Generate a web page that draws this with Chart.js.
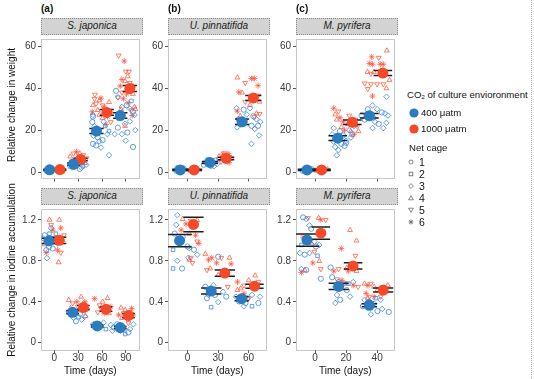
<!DOCTYPE html>
<html><head><meta charset="utf-8">
<script src="https://cdn.jsdelivr.net/npm/chart.js@4"></script>
<style>
body{margin:0;background:#fff;font-family:"Liberation Sans",Arial,sans-serif;}
#fig{position:relative;width:534px;height:379px;overflow:hidden;background:#fff;}
canvas{position:absolute;}
.strip{position:absolute;background:#d3d3d3;border:1px dotted #8c8c8c;box-sizing:border-box;font-style:italic;font-size:10px;color:#1a1a1a;text-align:center;line-height:14px;}
.lab{position:absolute;font-size:10px;color:#111;white-space:nowrap;line-height:12px;}
</style></head>
<body><div id="fig"></div>
<script>
// ---------------- DATA ----------------
const SPECIES = ['S. japonica', 'U. pinnatifida', 'M. pyrifera'];
const PANEL_LABELS = ['(a)', '(b)', '(c)'];
const CO2_LEVELS = ['400 μatm', '1000 μatm'];
const CAGES = ['1', '2', '3', '4', '5', '6'];
const WEIGHT_TICKS = [0, 20, 40, 60];
const IODINE_TICKS = [0, 0.4, 0.8, 1.2];
const SJ_DAY_TICKS = [0, 30, 60, 90];
const UP_DAY_TICKS = [0, 30, 60];
const MP_DAY_TICKS = [0, 20, 40];
const Y_TITLES = ['Relative change in weight', 'Relative change in iodine accumulation'];
const X_TITLE = 'Time (days)';

// means: [day, mean, SE, cap half-width (days)]
const sjWeightMean400  = [[-6,1.1,0.3,8],[24,3.8,0.5,8],[53,19.6,1.2,9],[83,27,1.3,9]];
const sjWeightMean1000 = [[7,1.2,0.3,8],[33,6,0.6,9],[66,28.5,1.4,9],[95,39.9,1.4,9]];
const upWeightMean400  = [[-7.2,1,0.3,8],[22,4.6,0.5,8],[53.7,24,1.3,7]];
const upWeightMean1000 = [[6.4,1,0.3,8],[38,6.5,0.6,8],[64.8,35.4,1.2,8]];
const mpWeightMean400  = [[-5.2,1,0.3,6],[14.6,16.2,1.1,6],[35,26.9,1.1,6]];
const mpWeightMean1000 = [[4.2,1,0.3,6],[24,23.8,1.1,6],[43.7,47.3,1.2,6]];
const sjIodineMean400  = [[-6.9,0.995,0.025,9],[23.1,0.297,0.015,8],[53.9,0.164,0.01,8],[83,0.148,0.01,8]];
const sjIodineMean1000 = [[6.1,1.0,0.03,9],[36.5,0.344,0.02,8],[65,0.328,0.02,8],[93.3,0.265,0.02,8]];
const upIodineMean400  = [[-7.9,0.997,0.06,12],[23.3,0.505,0.03,10],[53.3,0.43,0.02,7]];
const upIodineMean1000 = [[5.8,1.155,0.07,10],[36.7,0.68,0.03,10],[66,0.552,0.02,9]];
const mpIodineMean400  = [[-5.2,1.003,0.06,8],[15.2,0.55,0.03,6.5],[35,0.366,0.015,5]];
const mpIodineMean1000 = [[3.7,1.07,0.06,6],[24.5,0.75,0.03,6],[43.9,0.515,0.02,6.5]];

// individual replicates: [day, value, net cage]
const sjWeightPts400 = [
 [-10,0.8,1],[-8,1.5,2],[-5,0.5,3],[-3,1.8,1],[-9,1.2,2],[-6,0.3,3],[-4,1.0,1],[-7,2.0,3],
 [20,2.8,1],[24,2.0,2],[28,2.8,3],[32,1.5,1],[36,2.8,2],[40,3.5,3],[22,3.5,1],[30,4.0,2],[34,2.1,3],
 [48.6,27.3,3],[47.8,23.9,1],[49.4,17.3,3],[54.7,16.6,1],[56.7,14.7,3],[60.7,15.3,1],[66.8,18.1,3],[68.8,19.6,2],
 [52.6,12.7,1],[58.7,11.7,3],[68.8,8.1,3],[48.6,13.5,1],[50.6,21.9,3],[48.6,26.5,1],[62,24,3],[64,22,2],
 [77.7,38.8,1],[80.2,35.7,3],[85,31.1,3],[91,31.9,1],[95,30.4,3],[99,28.8,1],[101,27.3,3],[89,23,3],[80,21.2,1],
 [85,18.1,3],[92,18.9,1],[89.9,15,3],[99,12,1],[76,18.1,3],[81,25.8,1],[95,24.2,3],[97,34,2],[102,20,3]];
const sjWeightPts1000 = [
 [4,0.5,4],[6,1.5,5],[9,0.8,6],[11,1.8,4],[12,0.6,5],[7,2.2,6],[10,1.2,4],[5,1.0,5],
 [20,7.4,4],[24,8.9,5],[28,9.7,6],[32,8.9,4],[36.4,8.1,5],[26,5.8,6],[34,6.1,4],[40.5,6.6,5],[30,4.3,6],[38.5,4.3,4],[22,5.1,5],
 [50.6,35,5],[56.7,34.2,4],[58.7,35.3,6],[48.6,31.9,4],[52.6,32.7,5],[47.8,28.8,6],[54.7,29.6,4],[60.7,31.9,5],[62.8,31.1,6],
 [68.8,33.4,4],[70.9,28.1,5],[66.8,26.5,6],[60.7,25.8,4],[70.9,23.9,5],[64.8,22.7,6],[56.7,27.3,4],[51,37,5],
 [81,55.7,5],[88,53,6],[90,48,5],[94,48,5],[92.3,45.7,4],[85,44.2,6],[89,43.4,4],[95,42.6,5],[83,41.1,6],[99,41.1,4],
 [85,38,5],[91,37.3,6],[99,37.3,4],[80,35.7,5],[87,35,6],[101,31.1,4],[97,29.6,5],[89,22,4],[93,33,6],[84,30,4],[98,27,6],[102,30,4]];
const upWeightPts400 = [
 [-11,0.6,1],[-9,1.5,2],[-6,0.4,3],[-4,1.7,1],[-8,1.1,3],[-5,0.9,2],[-10,1.9,1],
 [16,3.5,1],[18,5,3],[20,6,2],[23,3,1],[25,4.5,3],[27,5.5,1],[29,3.8,3],[31,6.2,2],[21,4.2,1],[26,2.8,3],
 [49,21.4,3],[50.5,25.2,1],[55.3,29.8,1],[58.4,27.5,3],[61.5,30.5,3],[64.8,26.7,1],[67.9,25.2,3],[69.5,22.1,1],
 [71.7,24,3],[66.3,20.6,3],[63,22.1,1],[70.5,17.5,3],[63,13.5,3],[52,22.9,1],[48.3,30.5,3],[57,24.5,2]];
const upWeightPts1000 = [
 [3,0.6,4],[5,1.6,5],[8,0.8,6],[10,1.4,4],[6,0.3,5],[9,2,6],[4,1.2,4],
 [31,7.5,4],[33,5,5],[35,8.5,6],[37,6,4],[39,7.8,5],[41,4.5,6],[43,6.8,4],[36,9,5],[40,8.8,6],[34,6.5,4],
 [49,45.1,4],[56.8,42.6,5],[63,44.7,6],[66,44.7,6],[69.5,41.3,6],[50.5,38.2,6],[53.7,37.9,4],[56.8,33.6,5],
 [61.5,32,4],[69.5,36.6,5],[71,33.6,4],[71,27.8,5],[49,29.1,6],[52,26.7,4],[66,26.3,5],[68,28,4]];
const mpWeightPts400 = [
 [-8,0.7,1],[-6,1.5,2],[-4,0.5,3],[-2,1.3,1],[-7,1.1,3],[-3,0.9,2],
 [12,21,3],[16,19.5,1],[11,18,3],[18,17.5,1],[20,15,3],[17,13.5,1],[13,12,3],[15,10.5,3],[14,8,3],[19,12.5,1],
 [22,20,3],[24,18,1],[25,22,3],[23,16.5,3],[20,14,1],[12,14.5,3],
 [46,36,3],[37,31.8,3],[34,30,1],[40,30,3],[43,28.5,1],[45,28,3],[47,27,3],[30,27,1],[38,26,3],[38.5,24,3],
 [41,23,1],[46,23.5,3],[44,21,3],[37,21,3],[32,25,1]];
const mpWeightPts1000 = [
 [1,0.6,4],[3,1.5,5],[6,0.8,6],[8,1.3,4],[5,0.4,5],[2,1.1,6],
 [12,30.5,6],[15,29,5],[13,27.5,4],[16,26,6],[14,25,4],[18,24,6],[21,23,4],[26,25,5],[27,22,6],[17,21.5,4],
 [19,20,6],[23,19.5,4],[25,18,6],[28,19.5,4],[22,27,5],
 [46.3,58,4],[36.5,55,6],[41,54.6,5],[35,51.9,6],[37,51.5,6],[42,51.5,6],[44,51.5,6],[33.8,47.8,4],[36,47,5],
 [38,47.8,4],[32,42.4,5],[36,42,5],[40,42,5],[44,42,5],[34,39.7,5],[46,40,4],[37,36.3,6],[48,44,4]];
const sjIodinePts400 = [
 [-12.2,1.05,1],[-6.1,1.065,2],[-4.1,1.12,3],[-10.1,0.905,1],[-9.3,0.826,3],[-6.9,0.936,1],[-2,1.015,3],
 [2,1.065,2],[4.1,0.97,3],[-2,0.92,1],[-14.2,1.02,3],
 [20.3,0.275,1],[24.3,0.243,3],[30.4,0.25,2],[34.5,0.227,3],[27.2,0.21,1],[38.5,0.256,3],[18.2,0.3,1],[32.4,0.28,3],
 [48.7,0.18,3],[52.7,0.149,1],[58.8,0.155,3],[64.9,0.133,2],[71,0.174,3],[75,0.149,1],[62,0.196,3],[73,0.117,3],
 [79,0.18,1],[83.2,0.117,3],[87.2,0.133,3],[93.3,0.101,1],[95.3,0.133,3],[99.4,0.18,3],[89.2,0.085,2],[81,0.149,3]];
const sjIodinePts1000 = [
 [-6.1,1.2,4],[-4.1,1.15,5],[-2,1.1,6],[6.1,1.2,4],[8.1,1.12,6],[12.2,1.05,5],[-10.1,0.88,6],[-12.2,0.96,4],
 [4.1,0.905,6],[8.1,0.88,5],[5.3,0.785,4],[10.1,0.99,6],
 [18.2,0.417,4],[23.1,0.385,5],[28.4,0.4,6],[33.7,0.448,4],[38.5,0.4,6],[29.6,0.353,5],[41.4,0.33,6],[20.3,0.337,4],
 [26.4,0.3,5],[39.3,0.26,4],
 [50.7,0.43,6],[56.8,0.366,5],[60.8,0.4,4],[66.9,0.436,4],[71,0.353,6],[54.7,0.298,5],[62.8,0.288,6],[68.9,0.288,4],[58.8,0.335,5],
 [84,0.342,4],[87.2,0.288,5],[81,0.272,6],[89.2,0.32,4],[95.3,0.3,5],[99.4,0.272,6],[93.3,0.193,5],[85.2,0.24,4],[97.3,0.335,6]];
const upIodinePts400 = [
 [-10.1,1.246,3],[-11.1,1.151,3],[-12.7,1.066,1],[-4.8,1.034,1],[-14.3,0.908,2],[1.6,0.924,3],[0.9,0.83,3],
 [-14.3,0.725,2],[-5.4,0.725,1],[-10.1,0.8,3],[0,0.94,1],[6.3,0.908,1],[9.5,0.86,3],
 [17.5,0.546,1],[20.6,0.467,3],[19.1,0.435,1],[25.4,0.561,3],[27,0.467,1],[30.2,0.397,3],[23.2,0.347,2],
 [35,0.498,3],[38.1,0.45,1],[30.2,0.84,1],
 [47.6,0.45,3],[50.8,0.403,1],[55.5,0.356,3],[58.7,0.435,1],[63.5,0.467,3],[63.5,0.356,2],[69.8,0.388,1],
 [71.4,0.45,3],[57.1,0.388,1]];
const upIodinePts1000 = [
 [-4.8,1.208,4],[-1.6,1.16,6],[3.2,1.192,5],[9.5,1.198,4],[1.6,1.066,4],[7.9,1.05,6],[11.1,0.97,6],[3.2,0.83,5],
 [4.8,0.78,5],[1.6,0.81,4],[9.5,0.99,5],[-6.3,1.1,6],
 [17.5,0.867,4],[20.6,0.81,6],[19.1,0.71,5],[22.3,0.725,4],[28.6,0.78,6],[33.3,0.83,5],[41.3,0.83,4],[42.9,0.77,6],
 [38.1,0.66,5],[39.7,0.546,5],[30.2,0.66,4],[23.8,0.83,6],
 [49.2,0.593,6],[52.4,0.53,4],[55.6,0.56,5],[60.3,0.609,4],[63.5,0.56,6],[66.7,0.656,4],[69.8,0.593,5],
 [49.2,0.514,4],[55.6,0.482,6],[60.3,0.435,5],[52.4,0.45,4]];
const mpIodinePts400 = [
 [-7.75,1.224,1],[-5.7,1.208,3],[-3.6,1.145,3],[-2.5,1.113,1],[-0.4,0.987,3],[0.6,0.94,1],[-8.8,0.955,2],
 [-9.8,0.876,3],[-6.7,0.86,1],[-3.6,0.876,3],[1.6,0.85,2],[-8.8,0.72,3],[-5.7,0.71,1],[3.7,0.625,1],[2.7,0.955,3],
 [11,0.64,1],[13.1,0.546,3],[15.2,0.593,1],[18.3,0.577,3],[20.4,0.514,1],[22.5,0.45,3],[14.1,0.466,3],
 [16.2,0.419,1],[13.1,0.388,3],[24.6,0.593,3],[21.4,0.577,2],[10,0.735,1],
 [31.9,0.419,3],[34,0.388,1],[38.1,0.382,3],[30.8,0.356,1],[36,0.277,3],[40.2,0.309,1],[43.3,0.33,3],
 [47.5,0.3,1],[42.3,0.419,3],[39.2,0.435,2],[35,0.403,3]];
const mpIodinePts1000 = [
 [-4.6,1.218,5],[2.3,1.218,4],[3.7,1.2,6],[6.9,1.2,5],[-7.75,1.03,6],[-2.5,0.97,4],[-0.4,0.89,5],[2.7,0.797,4],
 [-1.5,0.78,6],[-6.7,0.71,4],[-8.8,0.687,6],[3.7,0.72,5],
 [22.5,1.1,4],[26.7,0.997,4],[16.9,0.92,6],[26,0.85,5],[12.1,0.7,6],[15.2,0.72,5],[20.4,0.73,4],[21.4,0.7,6],
 [26.7,0.7,4],[14.1,0.62,5],[17.3,0.61,6],[19.8,0.577,4],[24.6,0.56,6],[27.8,0.546,5],
 [31.9,0.577,4],[34,0.56,6],[36,0.577,5],[38.1,0.546,4],[32.9,0.482,6],[35,0.45,5],[40.2,0.514,4],[45.4,0.498,6],
 [46.9,0.56,4],[42.3,0.45,5],[38.1,0.45,6],[34,0.435,4]];

// ---------------- STYLE / LAYOUT ----------------
const FONT = '"Liberation Sans", Arial, sans-serif';
Chart.defaults.font.family = FONT;
const BLUE = '#2b7bbf', RED = '#f6492a';
const BLUE_PT = 'rgba(60,135,215,0.88)', RED_PT = 'rgba(255,80,55,0.82)';
const COLS = [{l:41,r:143},{l:168,r:270},{l:296,r:398}];
const ROWS = [{stripTop:18, top:34, bottom:180, yr:[-3.07,63.8], yt:WEIGHT_TICKS, xb:4, showX:false},
              {stripTop:188, top:204, bottom:350, yr:[-0.071,1.311], yt:IODINE_TICKS, xb:29, showX:true}];
const XR = [[-16.8,107.2],[-19.3,77.8],[-12.3,51.2]];
const XT = [SJ_DAY_TICKS, UP_DAY_TICKS, MP_DAY_TICKS];
const L = 30, RP = 2, TP = 1;

const fig = document.getElementById('fig');
function addDiv(cls, html, css){ const d=document.createElement('div'); d.className=cls; d.innerHTML=html; Object.assign(d.style, css); fig.appendChild(d); return d; }

const STYLE_BY_CAGE = ['circle','rect','rectRot','triangle','triangle','star'];
const ROT_BY_CAGE = [0,0,0,0,180,0];
const RAD_BY_CAGE = [2.6,2.5,2.8,2.8,2.8,3];

const borderPlugin = {
  id:'panelBorder',
  beforeDatasetsDraw(chart){
    const a = chart.chartArea, ctx = chart.ctx;
    ctx.save(); ctx.strokeStyle = '#8f8f8f'; ctx.lineWidth = 1; ctx.setLineDash([1,1]);
    ctx.strokeRect(Math.round(a.left)+0.5, Math.round(a.top)+0.5, Math.round(a.right-a.left)-1, Math.round(a.bottom-a.top)-1);
    ctx.restore();
  }
};

function capData(means){
  const d = [];
  means.forEach(([x,m,se,hw]) => {
    d.push({x:x-hw,y:m+se},{x:x+hw,y:m+se},{x:null,y:null},{x:x-hw,y:m-se},{x:x+hw,y:m-se},{x:null,y:null});
  });
  return d;
}
function ptsDataset(pts, color){
  return {type:'scatter', data:pts.map(p=>({x:p[0],y:p[1]})),
    pointStyle:pts.map(p=>STYLE_BY_CAGE[p[2]-1]), pointRotation:pts.map(p=>ROT_BY_CAGE[p[2]-1]),
    pointRadius:pts.map(p=>RAD_BY_CAGE[p[2]-1]), pointBorderColor:color, pointBackgroundColor:'rgba(0,0,0,0)',
    pointBorderWidth:0.9, order:3};
}
function meanDataset(means, color){
  return {type:'scatter', data:means.map(m=>({x:m[0],y:m[1]})), pointRadius:5.5, pointStyle:'circle',
    pointBackgroundColor:color, pointBorderColor:color, pointBorderWidth:0, order:0};
}
function capDataset(means){
  return {type:'line', data:capData(means), borderColor:'#1e1e1e', borderWidth:1.5, pointRadius:0, spanGaps:false, showLine:true, order:1};
}

function panel(ci, ri, m400, m1000, p400, p1000){
  const col = COLS[ci], row = ROWS[ri];
  const plotW = col.r - col.l, plotH = row.bottom - row.top;
  const c = document.createElement('canvas');
  const W = plotW + L + RP, H = plotH + row.xb + TP;
  c.width = W; c.height = H;
  c.style.left = (col.l - L) + 'px'; c.style.top = (row.top - TP) + 'px';
  c.style.width = W + 'px'; c.style.height = H + 'px';
  fig.appendChild(c);
  const zero = s => { s.paddingLeft = 0; s.paddingRight = 0; s.paddingTop = 0; s.paddingBottom = 0; };
  const xt = XT[ci], yt = row.yt;
  new Chart(c, {
    type:'scatter',
    data:{datasets:[ptsDataset(p400, BLUE_PT), ptsDataset(p1000, RED_PT), capDataset(m400), capDataset(m1000), meanDataset(m400, BLUE), meanDataset(m1000, RED)]},
    options:{
      responsive:false, animation:false, devicePixelRatio:1, events:[],
      layout:{padding:{left:0,right:RP,top:TP,bottom:0}},
      plugins:{legend:{display:false}, tooltip:{enabled:false}},
      scales:{
        x:{type:'linear', min:XR[ci][0], max:XR[ci][1],
          afterBuildTicks:s=>{ s.ticks = xt.map(v=>({value:v})); },
          grid:{drawOnChartArea:false, drawTicks:true, tickLength:3, color:'#555', lineWidth:1},
          border:{display:false},
          ticks:{display:row.showX, font:{size:10, lineHeight:1.2}, color:'#3a3a3a', padding:-1, maxRotation:0, autoSkip:false, callback:v=>String(v)},
          title:{display:row.showX, text:X_TITLE, font:{size:10}, color:'#111', padding:{top:0,bottom:2}},
          afterFit:s=>{ s.height = row.xb; zero(s); }
        },
        y:{type:'linear', min:row.yr[0], max:row.yr[1],
          afterBuildTicks:s=>{ s.ticks = yt.map(v=>({value:v})); },
          grid:{drawOnChartArea:false, drawTicks:true, tickLength:3, color:'#555', lineWidth:1},
          border:{display:false},
          ticks:{font:{size:10}, color:'#3a3a3a', padding:2, autoSkip:false, callback:v=>String(v)},
          afterFit:s=>{ s.width = L; zero(s); }
        }
      }
    },
    plugins:[borderPlugin]
  });
  addDiv('strip', SPECIES[ci], {left:col.l+'px', top:row.stripTop+'px', width:plotW+'px', height:(row.top-row.stripTop+1)+'px'});
}

panel(0,0, sjWeightMean400, sjWeightMean1000, sjWeightPts400, sjWeightPts1000);
panel(1,0, upWeightMean400, upWeightMean1000, upWeightPts400, upWeightPts1000);
panel(2,0, mpWeightMean400, mpWeightMean1000, mpWeightPts400, mpWeightPts1000);
panel(0,1, sjIodineMean400, sjIodineMean1000, sjIodinePts400, sjIodinePts1000);
panel(1,1, upIodineMean400, upIodineMean1000, upIodinePts400, upIodinePts1000);
panel(2,1, mpIodineMean400, mpIodineMean1000, mpIodinePts400, mpIodinePts1000);

// panel tags
COLS.forEach((c,i)=> addDiv('lab', PANEL_LABELS[i], {left:c.l+'px', top:'3px', fontWeight:'bold'}));
// y titles
[[Y_TITLES[0],105],[Y_TITLES[1],270]].forEach(([t,cy])=>{
  addDiv('lab', t, {left:(12-110)+'px', top:(cy-6)+'px', width:'220px', textAlign:'center', transform:'rotate(-90deg)', transformOrigin:'50% 50%'});
});
// legend
addDiv('lab', 'CO<sub style="font-size:6px;vertical-align:-1px">2</sub> of culture envioronment', {left:'407px', top:'89px', fontSize:'9.6px'});
const legSvg = document.createElementNS('http://www.w3.org/2000/svg','svg');
legSvg.setAttribute('width','30'); legSvg.setAttribute('height','140');
Object.assign(legSvg.style,{position:'absolute', left:'400px', top:'100px'});
fig.appendChild(legSvg);
function svgEl(tag, attrs){ const e=document.createElementNS('http://www.w3.org/2000/svg',tag); for(const k in attrs) e.setAttribute(k, attrs[k]); legSvg.appendChild(e); return e; }
svgEl('circle',{cx:14, cy:13, r:4.6, fill:BLUE});
svgEl('circle',{cx:14, cy:29, r:4.6, fill:RED});
addDiv('lab', CO2_LEVELS[0], {left:'421px', top:'107px', fontSize:'9.6px'});
addDiv('lab', CO2_LEVELS[1], {left:'421px', top:'123px', fontSize:'9.6px'});
addDiv('lab', 'Net cage', {left:'409px', top:'142px', fontSize:'9.6px'});
const CAGE_Y = [162,174,186,198,210,222];
const g = '#666';
CAGES.forEach((lab,i)=>{
  const cy = CAGE_Y[i]-100, cx = 11;
  if (i===0) svgEl('circle',{cx, cy, r:2, fill:'none', stroke:g, 'stroke-width':0.8});
  if (i===1) svgEl('rect',{x:cx-1.8, y:cy-1.8, width:3.6, height:3.6, fill:'none', stroke:g, 'stroke-width':0.8});
  if (i===2) svgEl('polygon',{points:`${cx},${cy-2.4} ${cx+2.4},${cy} ${cx},${cy+2.4} ${cx-2.4},${cy}`, fill:'none', stroke:g, 'stroke-width':0.8});
  if (i===3) svgEl('polygon',{points:`${cx},${cy-2.4} ${cx+2.4},${cy+1.8} ${cx-2.4},${cy+1.8}`, fill:'none', stroke:g, 'stroke-width':0.8});
  if (i===4) svgEl('polygon',{points:`${cx},${cy+2.4} ${cx+2.4},${cy-1.8} ${cx-2.4},${cy-1.8}`, fill:'none', stroke:g, 'stroke-width':0.8});
  if (i===5) svgEl('path',{d:`M${cx-2.5},${cy}H${cx+2.5}M${cx},${cy-2.5}V${cy+2.5}M${cx-1.8},${cy-1.8}L${cx+1.8},${cy+1.8}M${cx-1.8},${cy+1.8}L${cx+1.8},${cy-1.8}`, stroke:g, 'stroke-width':0.8});
  addDiv('lab', lab, {left:'419px', top:(CAGE_Y[i]-6)+'px', fontSize:'10.5px'});
});
// figure frame edge on the right
addDiv('lab','',{left:'531px', top:'0px', width:'0px', height:'379px', borderRight:'1px dotted #aaa'});
</script>
</body></html>
